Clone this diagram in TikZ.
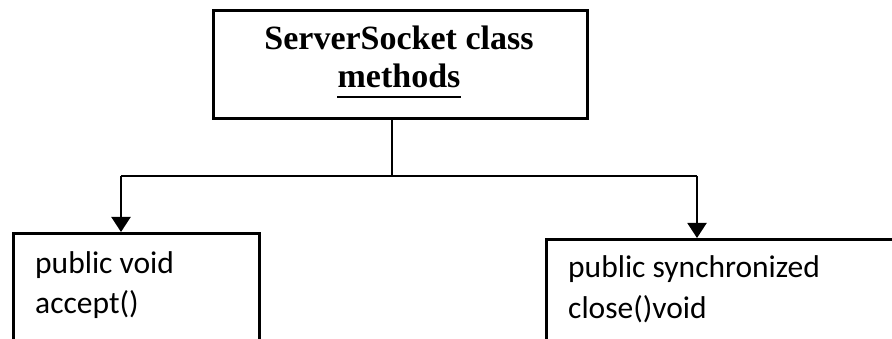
\documentclass[tikz,border=0pt]{standalone}
\usepackage{fontspec}
\setmainfont{Liberation Serif}
\newfontfamily\bodyfont{Carlito}
\usetikzlibrary{arrows.meta}
\begin{document}
\begin{tikzpicture}[x=1pt,y=-1pt,
  frame/.style={draw, line width=2.6pt, inner sep=0pt, anchor=north west},
  link/.style={line width=2.4pt},
  arr/.style={line width=2pt, -{Triangle[length=15pt,width=19pt]}},
  head/.style={inner sep=0pt, anchor=base, font=\fontsize{34}{38}\selectfont\bfseries},
  item/.style={inner sep=0pt, anchor=base west, font=\bodyfont\fontsize{31.5}{40}\selectfont}]
\useasboundingbox (0,0) rectangle (892,339);
\clip (0,0) rectangle (892,339);

% class box
\node[frame, minimum width=374pt, minimum height=108pt] (top) at (212,9) {};
\node[head] (t1) at (399,50) {ServerSocket class};
\node[head] (t2) at (399,88) {methods};
\draw[line width=2pt] ([yshift=-9pt]t2.base west) -- ([yshift=-9pt]t2.base east);

% method boxes
\node[frame, minimum width=246pt, minimum height=150pt] (acc) at (12,232) {};
\node[item] (a1) at (35,273) {public void};
\node[item] (a2) at (35,313) {accept()};

\node[frame, minimum width=400pt, minimum height=150pt] (cls) at (545,238) {};
\node[item] (c1) at (568,278) {public synchronized};
\node[item] (c2) at (568,318) {close()void};

% connectors
\coordinate (j) at (392,176);
\coordinate (lt) at (121,176);
\coordinate (rt) at (697,176);
\draw[link] (top.south -| j) -- (j);
\draw[link] (lt) -- (rt);
\draw[arr] (lt) -- (lt |- acc.north);
\draw[arr] (rt) -- (rt |- cls.north);
\end{tikzpicture}
\end{document}
